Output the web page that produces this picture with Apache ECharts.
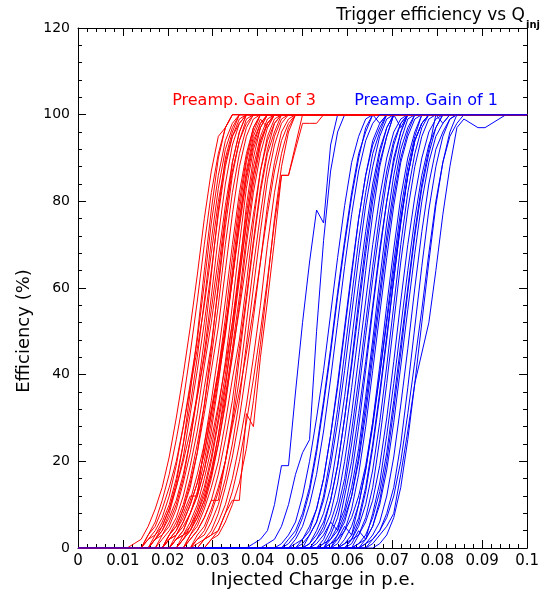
<!DOCTYPE html>
<html><head><meta charset="utf-8">
<script src="https://cdn.jsdelivr.net/npm/echarts@6/dist/echarts.min.js"></script>
<style>html,body{margin:0;padding:0;background:#fff}#c{width:542px;height:597px}</style>
</head><body><div id="c"></div>
<script>
// sampling grid of injected charge (p.e.): 64 DAC steps over 0..0.1
const chargeStep = 0.1 / 64;
const gridSteps = 64;
const xTickLabels = ['0','0.01','0.02','0.03','0.04','0.05','0.06','0.07','0.08','0.09','0.1'];
const yTickLabels = ['0','20','40','60','80','100','120'];
const seriesNames = ['Preamp. Gain of 3', 'Preamp. Gain of 1'];

// each curve: [first grid index of listed values, efficiency values (%)...]; 0 before, 100 after
const gain3Curves = [
  [8, 1,2,5,9,14,21,30,40,51,63,76,87,95,97,100],
  [10, 3,6,11,17,25,34,45,57,70,82,91,97,100],
  [10, 2,4,7,12,19,28,38,48,61,75,86,94,98,100],
  [11, 3,5,9,15,24,36,49,64,78,90,97,100],
  [10, 2,3,6,10,16,24,33,44,57,71,83,92,97,100],
  [10, 3,5,9,14,20,28,37,46,56,68,80,89,95,98,100],
  [11, 2,4,8,14,21,31,41,52,64,77,88,95,99,100],
  [12, 3,6,10,16,25,36,48,63,78,90,96,100],
  [11, 2,4,7,11,17,25,35,45,58,72,84,93,98,100],
  [11, 2,5,9,14,20,27,35,44,55,67,79,89,96,100],
  [11, 2,3,5,9,15,22,31,42,52,64,77,87,94,98,100],
  [13, 3,5,9,14,22,33,46,61,76,89,96,100],
  [12, 2,4,7,12,19,27,37,47,60,74,86,94,99,100],
  [13, 3,6,10,16,24,33,44,56,70,82,91,97,100],
  [13, 3,5,9,15,22,31,41,51,64,77,88,95,99,100],
  [13, 2,3,6,10,15,22,31,41,53,67,80,90,97,100],
  [13, 2,4,8,12,12,24,34,45,57,70,82,91,97,100],
  [13, 2,4,7,11,17,24,32,41,51,62,74,85,93,98,100],
  [14, 2,4,8,13,20,29,39,49,62,76,87,95,99,97,100],
  [13, 2,3,5,8,12,18,27,38,50,64,78,89,96,100],
  [14, 3,6,10,15,22,31,40,50,62,75,86,94,98,100],
  [14, 2,3,6,10,16,23,32,43,56,70,83,92,97,100],
  [14, 2,4,8,12,18,25,33,42,52,63,75,86,94,98,100],
  [15, 2,5,9,14,21,30,40,52,65,77,88,95,99,100],
  [15, 3,4,7,11,17,26,37,50,64,79,90,97,100],
  [15, 2,4,8,13,20,29,38,49,62,75,86,94,98,100],
  [14, 2,3,5,8,12,18,26,35,46,58,72,84,93,98,100],
  [15, 2,4,7,11,17,24,33,45,55,66,77,87,94,98,100],
  [16, 3,6,10,16,24,34,44,56,70,82,91,97,100],
  [16, 2,4,7,11,17,25,34,46,58,71,83,92,98,100],
  [16, 3,5,9,14,20,29,39,48,61,75,87,95,99,100],
  [16, 2,4,7,11,11,20,30,44,57,70,82,91,96,100],
  [17, 2,4,8,13,20,29,39,52,65,77,88,95,99,100],
  [17, 2,3,6,10,16,24,34,47,60,73,85,93,98,100],
  [17, 3,5,9,14,20,28,36,45,55,66,77,87,94,98,100],
  [18, 2,4,8,14,21,30,41,53,66,79,89,96,99,100],
  [18, 2,3,6,10,16,24,33,44,56,70,82,91,97,100],
  [19, 2,4,8,13,20,29,39,50,62,75,86,86,93,100],
  [19, 2,3,6,10,15,23,34,47,61,76,88,96,100],
  [17, 1,2,3,4,8,11,11,31,28,44,57,71,86,86,92,98,98,98,100]
];

const gain1Curves = [
  [25, 1,2,4,10,19,19,36,52,66,78,75,93,100],
  [27, 1,2,5,10,17,22,25,50,71,87,96,100],
  [29, 1,3,6,12,20,30,41,54,67,79,89,95,99,100],
  [30, 2,4,8,14,23,34,46,59,71,82,91,96,100],
  [30, 1,3,7,13,22,33,45,58,70,81,90,97,100,98,100],
  [31, 1,2,5,9,16,26,38,51,64,76,86,93,97,100],
  [32, 2,4,9,16,26,37,50,63,76,86,94,98,100],
  [32, 1,3,6,11,19,29,41,54,67,79,88,95,99,100],
  [33, 3,6,12,21,32,45,58,71,82,91,96,100],
  [33, 1,4,8,14,24,35,48,61,73,84,92,97,100],
  [34, 2,5,11,19,30,42,55,68,80,89,95,100,97,100],
  [34, 1,3,6,4,12,20,31,43,56,69,80,89,96,100],
  [35, 2,6,11,20,31,44,57,70,81,90,96,99,100],
  [35, 1,4,9,16,27,39,52,65,77,87,94,98,100],
  [36, 3,7,14,24,36,49,62,74,85,93,98,100],
  [36, 1,2,5,3,10,18,28,40,53,66,78,88,95,100],
  [36, 2,5,9,17,28,41,55,68,80,90,96,100],
  [37, 1,4,9,17,28,41,54,67,79,89,95,99,100],
  [37, 3,6,12,21,33,46,59,72,83,92,97,100],
  [38, 2,5,10,18,29,42,56,69,81,90,96,100],
  [38, 1,3,7,14,24,36,49,62,75,86,94,98,100],
  [39, 2,6,13,23,35,48,62,75,86,94,98,100],
  [39, 1,4,2,8,15,26,38,51,64,76,86,93,97,100],
  [40, 3,7,14,25,38,52,66,78,88,95,99,100],
  [40, 1,3,7,13,22,34,47,60,73,84,92,100,98,100],
  [41, 2,5,11,20,32,45,59,72,83,91,97,100],
  [41, 1,3,6,12,21,33,46,60,73,84,92,96,99,100],
  [42, 2,4,8,14,24,37,51,65,78,88,95,99,100],
  [42, 1,3,5,8,17,27,38,45,52,64,77,88,97,99,98,97,97,98,99,100],
  [41, 1,2,4,7,12,20,31,43,55,68,80,89,95,98,100],
  [37, 2,4,7,12,19,29,40,52,64,76,86,94,98,100],
  [35, 1,2,4,8,14,23,35,48,62,75,86,94,99,100],
  [34, 2,4,8,15,25,37,50,64,77,88,95,100],
  [33, 1,3,6,11,19,30,43,57,70,82,91,97,100],
  [38, 1,2,5,10,18,29,42,56,70,82,91,97,100],
  [39, 2,3,6,11,19,30,43,57,70,81,90,96,99,100],
  [40, 1,2,5,10,18,29,42,55,68,80,89,95,98,100],
  [43, 1,3,7,14,25,38,52,66,79,89,96,100],
  [36, 1,3,7,12,20,31,44,57,70,81,90,96,100],
  [31, 2,5,10,17,27,39,52,65,77,87,94,98,100]
];

function expandCurve(curve) {
  const start = curve[0], vals = curve.slice(1), out = [];
  for (let k = 0; k <= gridSteps; k++) {
    const v = k < start ? 0 : (k - start < vals.length ? vals[k - start] : 100);
    out.push([k * chargeStep, v]);
  }
  return out;
}

const FONT = 'DejaVu Sans';
const series = [];
const n = Math.max(gain3Curves.length, gain1Curves.length);
for (let i = 0; i < n; i++) {
  if (gain3Curves[i]) series.push({
    name: seriesNames[0], type: 'line', data: expandCurve(gain3Curves[i]),
    symbol: 'none', lineStyle: { color: '#ff0000', width: 1 }, silent: true, animation: false
  });
  if (gain1Curves[i]) series.push({
    name: seriesNames[1], type: 'line', data: expandCurve(gain1Curves[i]),
    symbol: 'none', lineStyle: { color: '#0000ff', width: 1 }, silent: true, animation: false
  });
}

const axisCommon = {
  axisLine: { show: true, onZero: false, lineStyle: { color: '#000', width: 1 } },
  axisTick: { show: true, inside: true, length: 8, lineStyle: { color: '#000' } },
  minorTick: { show: true, splitNumber: 5, length: 4, lineStyle: { color: '#000' } },
  splitLine: { show: false }
};

const chart = echarts.init(document.getElementById('c'), null, { renderer: 'canvas' });
chart.setOption({
  animation: false,
  backgroundColor: '#fff',
  grid: { left: 78, right: 10, top: 28, bottom: 49, containLabel: false },
  xAxis: [
    Object.assign({ type: 'value', min: 0, max: 0.1, interval: 0.01, position: 'bottom',
      axisLabel: { color: '#000', fontFamily: FONT, fontSize: 15, margin: 6,
        formatter: (v) => xTickLabels[Math.round(v * 100)] } }, axisCommon),
    Object.assign({ type: 'value', min: 0, max: 0.1, interval: 0.01, position: 'top',
      axisLabel: { show: false } }, axisCommon)
  ],
  yAxis: [
    Object.assign({ type: 'value', min: 0, max: 120, interval: 20, position: 'left',
      axisLabel: { color: '#000', fontFamily: FONT, fontSize: 14, margin: 8,
        formatter: (v) => yTickLabels[Math.round(v / 20)] } }, axisCommon),
    Object.assign({ type: 'value', min: 0, max: 120, interval: 20, position: 'right',
      axisLabel: { show: false } }, axisCommon)
  ],
  series: series,
  graphic: [
    { type: 'text', x: 525, y: 16, style: { text: 'Trigger efficiency vs Q', fill: '#000', font: '17px "DejaVu Sans"', align: 'right', verticalAlign: 'middle' } },
    { type: 'text', x: 526, y: 25, style: { text: 'inj', fill: '#000', font: 'bold 10px "DejaVu Sans"', align: 'left', verticalAlign: 'middle' } },
    { type: 'text', x: 244, y: 101, style: { text: seriesNames[0], fill: '#ff0000', font: '16px "DejaVu Sans"', align: 'center', verticalAlign: 'middle' } },
    { type: 'text', x: 426, y: 101, style: { text: seriesNames[1], fill: '#0000ff', font: '16px "DejaVu Sans"', align: 'center', verticalAlign: 'middle' } },
    { type: 'text', x: 313, y: 580, style: { text: 'Injected Charge in p.e.', fill: '#000', font: '18px "DejaVu Sans"', align: 'center', verticalAlign: 'middle' } },
    { type: 'text', x: 24, y: 331, rotation: Math.PI / 2, style: { text: 'Efficiency (%)', fill: '#000', font: '18px "DejaVu Sans"', align: 'center', verticalAlign: 'middle' } }
  ]
});
</script></body></html>
